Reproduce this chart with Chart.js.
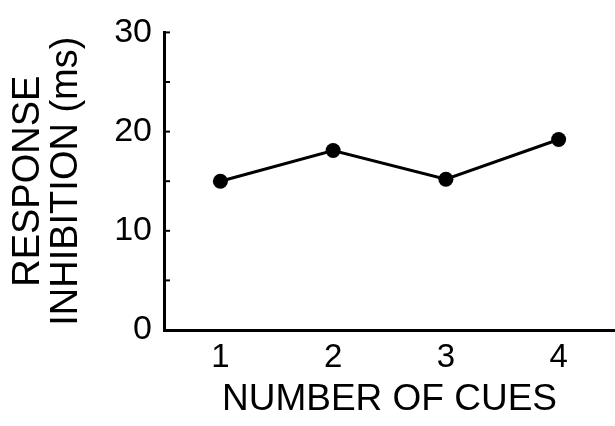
<!DOCTYPE html>
<html>
<head>
<meta charset="utf-8">
<script src="https://cdn.jsdelivr.net/npm/chart.js@4/dist/chart.umd.min.js"></script>
<style>
  html, body { margin: 0; padding: 0; background: #fff; overflow: hidden; }
  canvas { display: block; }
</style>
</head>
<body>
<canvas id="chart" width="615" height="426"></canvas>
<script>
// data
var cueCounts = ['1', '2', '3', '4'];
var inhibitionMs = [15, 18.1, 15.2, 19.2];
var yTickStep = 5;      // small tick every 5 ms, label every 10
var yMin = 0;
var yMax = 30;

var FONT = "'Liberation Sans', Arial, sans-serif";

// white page behind the canvas
var whiteBg = {
    id: 'whiteBg',
    beforeDraw: function(chart) {
        var c = chart.ctx;
        c.save();
        c.fillStyle = '#fff';
        c.fillRect(0, 0, chart.width, chart.height);
        c.restore();
    }
};

// short tick marks pointing into the plot, like the original
var inwardTicks = {
    id: 'inwardTicks',
    afterDraw: function(chart) {
        var y = chart.scales.y;
        var c = chart.ctx;
        c.save();
        c.strokeStyle = '#000';
        c.lineWidth = 2;
        y.ticks.forEach(function(t) {
            var py = y.getPixelForValue(t.value);
            c.beginPath();
            c.moveTo(y.right, py);
            c.lineTo(y.right + 6, py);
            c.stroke();
        });
        c.restore();
    }
};

new Chart(document.getElementById('chart'), {
    type: 'line',
    data: {
        labels: cueCounts,
        datasets: [{
            data: inhibitionMs,
            borderColor: '#000',
            backgroundColor: '#000',
            borderWidth: 3,
            pointRadius: 7.5,
            pointBackgroundColor: '#000',
            pointBorderWidth: 0,
            fill: false,
            tension: 0
        }]
    },
    options: {
        responsive: false,
        animation: false,
        // no extra room for the point markers, the axis runs to the edge
        layout: { autoPadding: false, padding: { top: 30, right: 0, left: 0, bottom: 0 } },
        plugins: {
            legend: { display: false },
            tooltip: { enabled: false }
        },
        scales: {
            x: {
                offset: true,
                grid: { display: false, drawTicks: false },
                border: { display: true, color: '#000', width: 3 },
                ticks: {
                    color: '#000',
                    padding: 8,
                    font: { family: FONT, size: 33 }
                },
                title: {
                    display: true,
                    text: 'NUMBER OF CUES',
                    color: '#000',
                    font: { family: FONT, size: 37, lineHeight: 1 },
                    padding: { top: 0, bottom: 8 }
                },
                afterFit: function(s) {
                    s.height = 96;
                    s.paddingLeft = 0;
                    s.paddingRight = 0;
                }
            },
            y: {
                min: yMin,
                max: yMax,
                grid: { display: false, drawTicks: false },
                border: { display: true, color: '#000', width: 3 },
                ticks: {
                    stepSize: yTickStep,
                    color: '#000',
                    padding: 12,
                    font: { family: FONT, size: 34 },
                    callback: function(v) { return v % 10 === 0 ? v : ''; }
                },
                title: {
                    display: true,
                    text: ['RESPONSE', 'INHIBITION (ms)'],
                    color: '#000',
                    font: { family: FONT, size: 38, lineHeight: 1 },
                    padding: { top: 10, bottom: 0 }
                },
                afterFit: function(s) { s.width = 164; }
            }
        }
    },
    plugins: [whiteBg, inwardTicks]
});
</script>
</body>
</html>
